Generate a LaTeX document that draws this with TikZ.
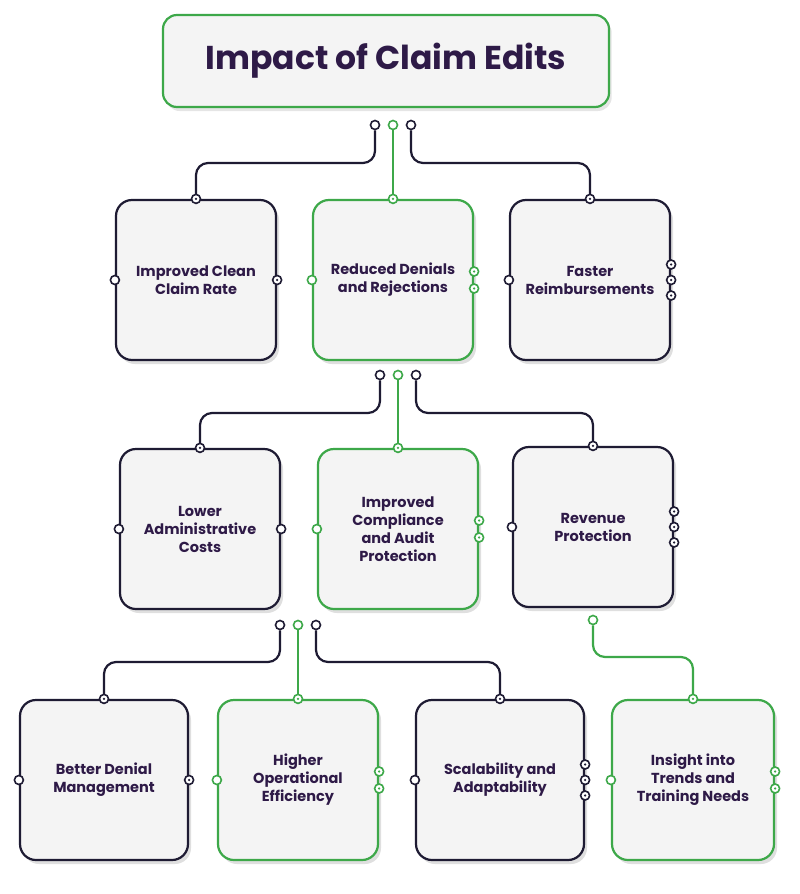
\documentclass[tikz,border=0pt]{standalone}
\usepackage{fontspec}
\setmainfont{Poppins}
\usetikzlibrary{shadows}
\definecolor{navy}{HTML}{1E1B33}
\definecolor{gr}{HTML}{3DA849}
\definecolor{txt}{HTML}{2E1A47}
\definecolor{panel}{HTML}{F4F4F4}
\tikzset{
 box/.style={draw=#1,line width=2.2pt,rounded corners=16pt,fill=panel,
   minimum width=160pt,minimum height=160pt,align=center,text=txt,
   font=\fontsize{14.5}{18}\selectfont\bfseries,drop shadow={opacity=0.25,shadow xshift=3pt,shadow yshift=-4pt}},
 pin/.style={circle,draw=#1,line width=1.6pt,fill=white,inner sep=0pt,minimum size=9pt},
 dpin/.style={circle,draw=#1,line width=1.6pt,fill=white,inner sep=0pt,minimum size=9pt,
   path picture={\fill[#1](path picture bounding box.center) circle (1.3pt);}},
 link/.style={draw=#1,line width=2.2pt,rounded corners=12pt}
}
\begin{document}
\begin{tikzpicture}[x=1pt,y=-1pt]
\useasboundingbox (0,0) rectangle (800,894);
\fill[white] (0,0) rectangle (800,894);
% title
\node[draw=gr,line width=2.2pt,rounded corners=14pt,fill=panel,minimum width=446pt,minimum height=92pt,
  text=txt,font=\fontsize{33}{38}\selectfont\bfseries,drop shadow={opacity=0.2,shadow yshift=-4pt}] (T) at (386,61) {Impact of Claim Edits};
% boxes
\node[box=navy] (A) at (196,280) {Improved Clean\\Claim Rate};
\node[box=gr] (B) at (393,280) {Reduced Denials\\and Rejections};
\node[box=navy] (C) at (590,280) {Faster\\Reimbursements};
\node[box=navy] (D) at (200,529) {Lower\\Administrative\\Costs};
\node[box=gr] (E) at (398,529) {Improved\\Compliance\\and Audit\\Protection};
\node[box=navy] (F) at (593,527) {Revenue\\Protection};
\node[box=navy,minimum width=168pt] (G) at (104,780) {Better Denial\\Management};
\node[box=gr] (H) at (298,780) {Higher\\Operational\\Efficiency};
\node[box=navy,minimum width=168pt] (I) at (500,780) {Scalability and\\Adaptability};
\node[box=gr,minimum width=162pt] (J) at (693,780) {Insight into\\Trends and\\Training Needs};
% connector origins
\node[pin=navy] (t1) at (375,125) {}; \node[pin=gr] (t2) at (393,125) {}; \node[pin=navy] (t3) at (411,125) {};
\node[pin=navy] (b1) at (380,375) {}; \node[pin=gr] (b2) at (398,375) {}; \node[pin=navy] (b3) at (416,375) {};
\node[pin=navy] (d1) at (280,625) {}; \node[pin=gr] (d2) at (298,625) {}; \node[pin=navy] (d3) at (316,625) {};
\node[pin=gr] (f1) at (593,620) {};
% connectors
\path[link=navy] (t1.south) -- (375,163) -- (196,163) -- (A.north);
\path[link=gr] (t2.south) -- (B.north);
\path[link=navy] (t3.south) -- (411,163) -- (590,163) -- (C.north);
\path[link=navy] (b1.south) -- (380,413) -- (200,413) -- (D.north);
\path[link=gr] (b2.south) -- (E.north);
\path[link=navy] (b3.south) -- (416,413) -- (593,413) -- (F.north);
\path[link=navy] (d1.south) -- (280,662) -- (104,662) -- (G.north);
\path[link=gr] (d2.south) -- (H.north);
\path[link=navy] (d3.south) -- (316,662) -- (500,662) -- (I.north);
\path[link=gr] (f1.south) -- (593,657) -- (693,657) -- (J.north);
% top pins on boxes
\foreach \n/\c in {A/navy,B/gr,C/navy,D/navy,E/gr,F/navy,G/navy,H/gr,I/navy,J/gr}
  \node[dpin=\c] at (\n.north) {};
% side pins
\foreach \n/\c in {A/navy,B/gr,C/navy,D/navy,E/gr,F/navy,G/navy,H/gr,I/navy,J/gr}
  \node[pin=\c] at (\n.west) {};
\foreach \n/\c in {A/navy,G/navy}
  \node[dpin=\c] at (\n.east) {};
\foreach \n/\c in {B/gr,E/gr,H/gr,J/gr}{
  \node[dpin=\c] at ([yshift=-8.5pt]\n.east) {};
  \node[dpin=\c] at ([yshift=8.5pt]\n.east) {};}
\foreach \n/\c in {C/navy,F/navy,I/navy}{
  \node[dpin=\c] at ([yshift=-15.5pt]\n.east) {};
  \node[dpin=\c] at (\n.east) {};
  \node[dpin=\c] at ([yshift=15.5pt]\n.east) {};}
\node[pin=navy] at (D.east) {};
\end{tikzpicture}
\end{document}
